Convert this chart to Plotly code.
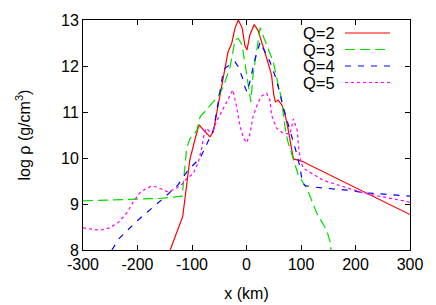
import plotly.graph_objects as go

# ---- data ----
q2_x = [-140, -117, -111, -104, -94, -87, -76, -67, -61, -52, -43, -34, -27, -21, -15, -8, -3, 1, 6, 14, 21, 28, 37, 46, 50, 53, 58, 65, 71, 76, 81, 86, 102, 300]
q2_y = [8.0, 8.73, 9.3, 9.96, 10.43, 10.72, 10.57, 10.46, 10.57, 11.15, 11.8, 12.3, 12.5, 12.83, 13.0, 12.83, 12.45, 12.35, 12.67, 12.9, 12.78, 12.53, 12.17, 11.8, 11.37, 11.22, 11.26, 11.15, 10.93, 10.65, 10.35, 9.98, 9.93, 8.77]

q3_x = [-300, -233, -160, -118, -113, -110, -104, -98, -91, -85, -73, -63, -54, -43, -30, -21, -15, -8, -3, 3, 8, 12, 19, 25, 30, 39, 49, 58, 63, 67, 71, 76, 83, 89, 95, 111, 129, 147, 153, 155]
q3_y = [9.07, 9.09, 9.12, 9.17, 9.89, 10.2, 10.42, 10.5, 10.6, 10.9, 11.05, 11.2, 11.3, 11.54, 11.98, 12.57, 12.6, 12.46, 12.05, 11.56, 11.22, 11.8, 12.39, 12.83, 12.67, 12.39, 12.09, 11.6, 11.35, 11.0, 10.65, 10.35, 10.07, 9.85, 9.63, 9.33, 8.8, 8.43, 8.2, 8.0]

q4_x = [-247, -233, -201, -171, -150, -126, -107, -85, -71, -61, -57, -54, -50, -43, -39, -30, -21, -15, -8, -3, 1, 6, 16, 25, 34, 43, 52, 61, 67, 76, 83, 89, 92, 98, 103, 108, 122, 184, 221, 300]
q4_y = [8.0, 8.26, 8.63, 8.93, 9.15, 9.41, 9.74, 10.0, 10.35, 10.6, 10.85, 11.05, 11.35, 11.85, 11.96, 12.02, 12.09, 11.98, 11.76, 11.55, 11.43, 11.65, 12.17, 12.52, 12.3, 12.09, 11.8, 11.43, 11.12, 10.76, 10.5, 10.22, 10.1, 9.8, 9.45, 9.4, 9.37, 9.3, 9.24, 9.17]

q5_x = [-300, -269, -251, -235, -220, -208, -196, -185, -174, -165, -155, -146, -140, -128, -116, -110, -98, -89, -82, -78, -74, -68, -61, -55, -49, -39, -30, -25, -18, -12, -6, 0, 6, 12, 21, 28, 37, 43, 46, 55, 67, 80, 86, 91, 93, 96, 99, 104, 140, 214, 300]
q5_y = [8.48, 8.43, 8.48, 8.6, 8.8, 9.04, 9.24, 9.33, 9.39, 9.37, 9.32, 9.27, 9.28, 9.35, 9.45, 9.55, 9.65, 9.89, 10.22, 10.5, 10.65, 10.58, 10.6, 10.8, 10.93, 11.15, 11.37, 11.48, 11.1, 10.7, 10.45, 10.33, 10.5, 10.9, 11.2, 11.35, 11.41, 11.26, 10.93, 10.65, 10.54, 10.52, 10.85, 10.65, 10.6, 10.2, 9.95, 9.78, 9.52, 9.24, 9.04]

series_names = ["Q=2", "Q=3", "Q=4", "Q=5"]
x_ticks = [-300, -200, -100, 0, 100, 200, 300]
y_ticks = [8, 9, 10, 11, 12, 13]

colors = ["#ff0000", "#00dd00", "#0000ff", "#ff00ff"]
dashes = ["solid", "10px,5px", "6px,7px", "3px,3px"]

FONT = "Liberation Sans, Arial, sans-serif"

fig = go.Figure()
for xs, ys, name, c, d in zip([q2_x, q3_x, q4_x, q5_x], [q2_y, q3_y, q4_y, q5_y], series_names, colors, dashes):
    fig.add_trace(go.Scatter(x=xs, y=ys, mode="lines", name=name,
                             line=dict(color=c, width=1.2, dash=d), showlegend=False))

# legend drawn gnuplot-style: text then sample
L, R, T, B = 83, 410, 20, 250
W, H = R - L, B - T
rows = [33, 49.5, 66, 82.5]
for name, c, d, py in zip(series_names, colors, dashes, rows):
    yp = (B - py) / H
    fig.add_annotation(x=(337 - L) / W, y=yp, xref="paper", yref="paper", text=name,
                       showarrow=False, xanchor="right", yanchor="middle",
                       font=dict(family=FONT, size=16.5, color="black"))
    fig.add_shape(type="line", xref="paper", yref="paper", x0=(345 - L) / W, x1=(390 - L) / W,
                  y0=yp, y1=yp, line=dict(color=c, width=1.2, dash=d))

axis_common = dict(showgrid=False, zeroline=False, showline=True, linecolor="black", linewidth=1,
                   mirror="ticks", ticks="inside", ticklen=5, tickcolor="black", tickwidth=1,
                   automargin=False,
                   tickfont=dict(family=FONT, size=16, color="black"))

fig.update_xaxes(range=[-300, 300], tickvals=x_ticks, ticktext=[str(v) for v in x_ticks],
                 title=dict(text="x (km)", font=dict(family=FONT, size=16, color="black"), standoff=15),
                 **axis_common)
fig.update_yaxes(range=[8, 13], tickvals=y_ticks, ticktext=[str(v) for v in y_ticks],
                 title=dict(text="log ρ (g/cm<sup>3</sup>)", font=dict(family=FONT, size=16, color="black"), standoff=26),
                 **axis_common)

fig.update_layout(template="none", width=436, height=305, margin=dict(l=L, r=436 - R, t=T, b=305 - B),
                  paper_bgcolor="white", plot_bgcolor="white", showlegend=False)

fig.write_html("out.html", config={"displayModeBar": False},
               post_script="document.body.style.margin='0px';")
